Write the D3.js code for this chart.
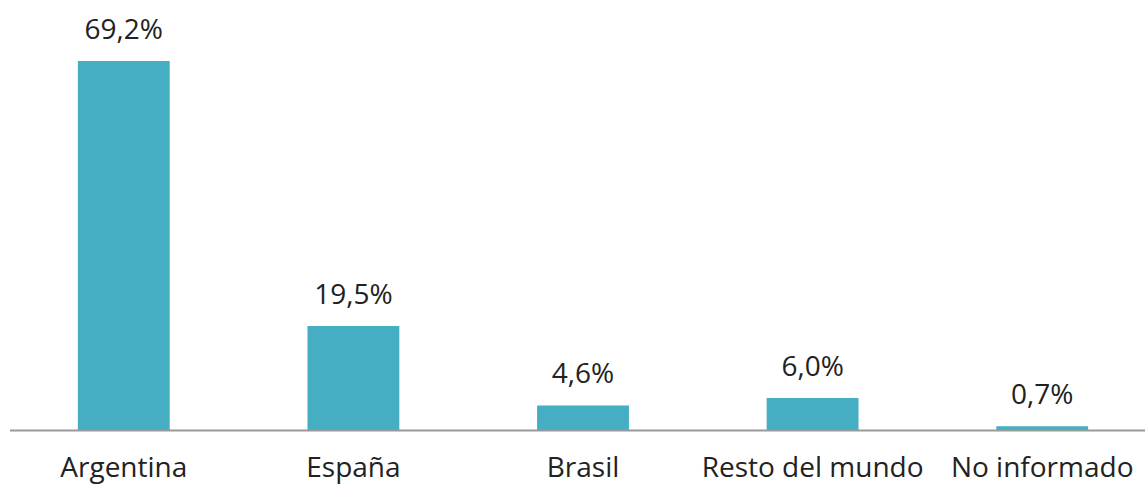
<!DOCTYPE html>
<html lang="es">
<head>
<meta charset="UTF-8">
<title>Distribución por país</title>
<script src="https://cdn.jsdelivr.net/npm/d3@7"></script>
<style>
  body { margin: 0; background: #fff; }
  text { font-family: "Open Sans", sans-serif; fill: #222; }
</style>
</head>
<body>
<script>
var paises = ["Argentina", "España", "Brasil", "Resto del mundo", "No informado"];
var porcentajes = [69.2, 19.5, 4.6, 6.0, 0.7];
var etiquetas = ["69,2%", "19,5%", "4,6%", "6,0%", "0,7%"];

var width = 1145, height = 485;
var baseY = 430;

var svg = d3.select("body").append("svg")
    .attr("width", width)
    .attr("height", height);

var x = d3.scaleBand()
    .domain(paises)
    .range([9, 1157])
    .paddingInner(0.6)
    .paddingOuter(0.3);

var y = d3.scaleLinear()
    .domain([0, 69.2])
    .range([baseY, 61]);

svg.selectAll("rect.bar").data(porcentajes)
    .enter().append("rect")
    .attr("class", "bar")
    .attr("x", function(d, i) { return x(paises[i]); })
    .attr("y", function(d) { return y(d); })
    .attr("width", x.bandwidth())
    .attr("height", function(d) { return baseY - y(d); })
    .style("fill", "#45aec3");

// eje
svg.append("line")
    .attr("x1", 10).attr("x2", width)
    .attr("y1", baseY + 0.5).attr("y2", baseY + 0.5)
    .style("stroke", "#999")
    .style("stroke-width", 2);

svg.selectAll("text.valor").data(porcentajes)
    .enter().append("text")
    .attr("class", "valor")
    .attr("x", function(d, i) { return x(paises[i]) + x.bandwidth() / 2; })
    .attr("y", function(d) { return y(d) - 22; })
    .attr("text-anchor", "middle")
    .style("font-size", "28px")
    .text(function(d, i) { return etiquetas[i]; });

svg.selectAll("text.cat").data(paises)
    .enter().append("text")
    .attr("class", "cat")
    .attr("x", function(d) { return x(d) + x.bandwidth() / 2; })
    .attr("y", 477)
    .attr("text-anchor", "middle")
    .style("font-size", "28px")
    .text(function(d) { return d; });
</script>
</body>
</html>
